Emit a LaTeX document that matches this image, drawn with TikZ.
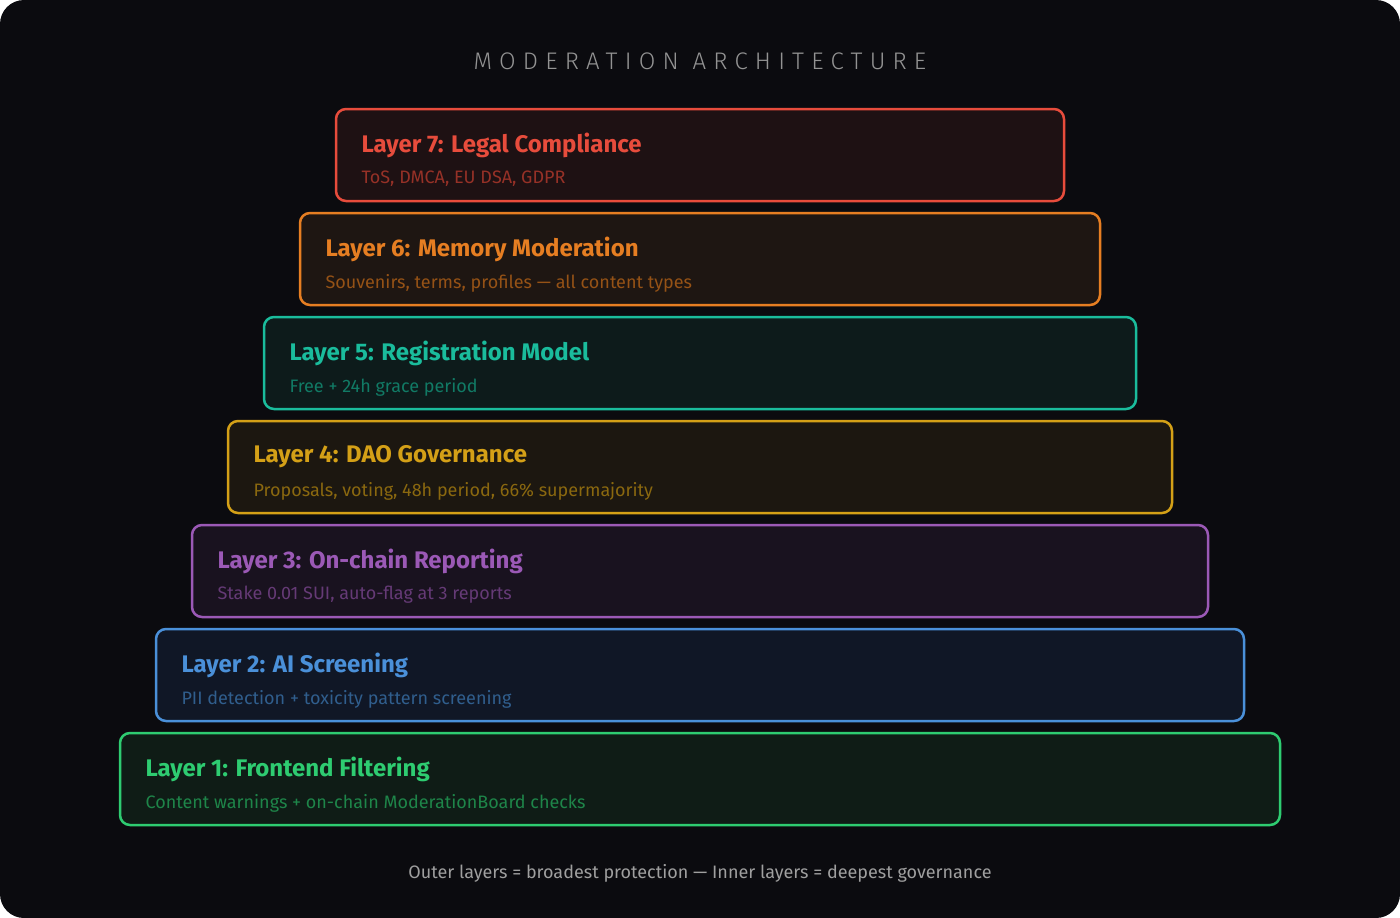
\documentclass[tikz,border=0pt]{standalone}
\usepackage{fontspec}
\setmainfont{Fira Sans}
\newfontfamily\titlefont[LetterSpace=30]{Fira Sans Light}
\definecolor{bgc}{HTML}{0B0B0F}
\definecolor{cA}{HTML}{2ECC71}\definecolor{fA}{HTML}{0F1C16}
\definecolor{cB}{HTML}{4A90D9}\definecolor{fB}{HTML}{101726}
\definecolor{cC}{HTML}{9B59B6}\definecolor{fC}{HTML}{19121F}
\definecolor{cD}{HTML}{D4A017}\definecolor{fD}{HTML}{1C1710}
\definecolor{cE}{HTML}{1ABC9C}\definecolor{fE}{HTML}{0D1B1B}
\definecolor{cF}{HTML}{E67E22}\definecolor{fF}{HTML}{1E1612}
\definecolor{cG}{HTML}{E74C3C}\definecolor{fG}{HTML}{1E1113}
\tikzset{layer/.style={draw=c#1, fill=f#1, line width=2.5pt, rounded corners=10pt}}
\tikzset{head/.style={anchor=west, font=\fontsize{24}{28}\selectfont\bfseries}}
\tikzset{sub/.style={anchor=west, font=\fontsize{18}{22}\selectfont}}
\begin{document}
\begin{tikzpicture}[x=1pt,y=-1pt]
  \useasboundingbox (0,0) rectangle (1400,918);
  \fill[bgc, rounded corners=24pt] (0,0) rectangle (1400,918);
  \node[font=\titlefont\fontsize{24}{28}\selectfont, text=gray!85] (title) at (700,61) {MODERATION ARCHITECTURE};
  % layers, innermost on top
  \foreach \k/\c/\top/\head/\txt in {
    7/G/109/{Layer 7: Legal Compliance}/{ToS, DMCA, EU DSA, GDPR},
    6/F/213/{Layer 6: Memory Moderation}/{Souvenirs, terms, profiles — all content types},
    5/E/317/{Layer 5: Registration Model}/{Free + 24h grace period},
    4/D/421/{Layer 4: DAO Governance}/{Proposals, voting, 48h period, 66\% supermajority},
    3/C/525/{Layer 3: On-chain Reporting}/{Stake 0.01 SUI, auto-flag at 3 reports},
    2/B/629/{Layer 2: AI Screening}/{PII detection + toxicity pattern screening},
    1/A/733/{Layer 1: Frontend Filtering}/{Content warnings + on-chain ModerationBoard checks}%
  } {
    \pgfmathsetmacro{\xl}{120+36*(\k-1)}
    \pgfmathsetmacro{\xr}{1280-36*(\k-1)}
    \draw[layer=\c] (\xl,\top) rectangle (\xr,\top+92);
    \node[head, text=c\c] (head\k) at (\xl+22,\top+36) {\head};
    \node[sub, text=c\c!65!black] (sub\k) at (\xl+22,\top+70) {\txt};
  }
  \node[font=\fontsize{18}{22}\selectfont, text=gray!75] (note) at (700,873)
    {Outer layers = broadest protection — Inner layers = deepest governance};
\end{tikzpicture}
\end{document}
